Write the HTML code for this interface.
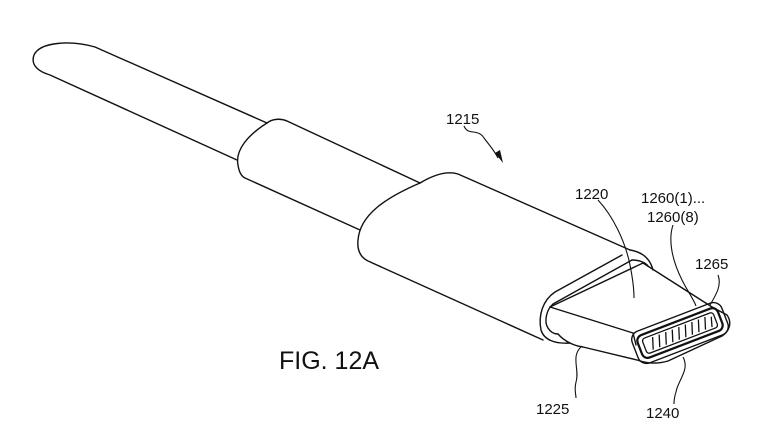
<!DOCTYPE html>
<html><head><style>html,body{margin:0;padding:0;background:#fff}svg{display:block}</style></head>
<body>
<svg width="780" height="433" viewBox="0 0 780 433" xmlns="http://www.w3.org/2000/svg" font-family="Liberation Sans, sans-serif">
<g fill="none" stroke="#111" stroke-width="1.4" stroke-linejoin="round" stroke-linecap="round">
<path d="M267,123 L95,47 C70,40 40,42 34,55 C30,66 40,72 50,75 L237,160"/>
<path d="M267,123 C272,119 280,118 287,121 L420,183"/>
<path d="M267,123 C248,135 235,150 238,165 C239,172 241,176 245,178 L360,230"/>
<path d="M420,183 C430,177 445,170 458,174 L630,250"/>
<path d="M420,183 C385,198 360,215 358,240 C357,250 360,257 368,261 L543,340"/>
<path d="M630,250 C642,252 650,258 653,270"/>
<path d="M622,255 L555,292 C543,300 538,315 541,330 C544,340 555,344 570,343"/>
<path d="M632,260 L553,304 C546,310 544,322 548,328 C551,333 555,334 558,334"/>
<path d="M632,260 C640,260 646,263 648,266"/>
<path d="M550,307 L643,263 L712,307"/>
<path d="M550,307 L633,333"/>
<path d="M558,334 C565,342 575,346 583,347 L637,360 C648,364 658,364 668,361 L722,336 C730,331 732,322 727,315 L712,307"/>
<path d="M633,333 L636,345"/>
</g>
<g transform="translate(680,333) rotate(-21)" fill="none" stroke="#111">
<rect x="-48" y="-17" width="96" height="34" rx="9" stroke-width="1.4"/>
<rect x="-43" y="-12" width="86" height="24" rx="6" stroke-width="2.2"/>
<rect x="-38" y="-8" width="76" height="16" rx="3" stroke-width="1.3"/>
<g stroke-width="1.3">
<line x1="-31" y1="6" x2="-27" y2="-6"/><line x1="-24" y1="6" x2="-20" y2="-6"/><line x1="-17" y1="6" x2="-13" y2="-6"/><line x1="-10" y1="6" x2="-6" y2="-6"/>
<line x1="-3" y1="6" x2="1" y2="-6"/><line x1="4" y1="6" x2="8" y2="-6"/><line x1="11" y1="6" x2="15" y2="-6"/><line x1="18" y1="6" x2="22" y2="-6"/>
<line x1="25" y1="6" x2="29" y2="-6"/><line x1="32" y1="6" x2="35" y2="-4"/>
</g>
</g>
<g fill="none" stroke="#111" stroke-width="1.1">
<path d="M464,126 C468,136 478,128 484,138 C490,146 494,150 498,158"/>
<path d="M598,200 C612,215 625,240 630,265 C633,280 634,290 634,298"/>
<path d="M673,225 C668,240 672,260 682,280 C688,292 694,300 696,306"/>
<path d="M718,275 C722,285 716,295 710,305"/>
<path d="M582,346 C570,356 580,370 576,382 C574,390 576,394 576,398"/>
<path d="M683,357 C690,370 678,380 676,392 C674,398 674,402 674,404"/>
</g>
<path d="M495,153 L503,163 L500,150 Z" fill="#111"/>
<g fill="#111" font-size="15">
<text x="446" y="124">1215</text>
<text x="575" y="199">1220</text>
<text x="641" y="203">1260(1)...</text>
<text x="647" y="222">1260(8)</text>
<text x="695" y="269">1265</text>
<text x="536" y="414">1225</text>
<text x="646" y="418">1240</text>
<text x="279" y="369" font-size="25">FIG. 12A</text>
</g>
</svg>
</body></html>
